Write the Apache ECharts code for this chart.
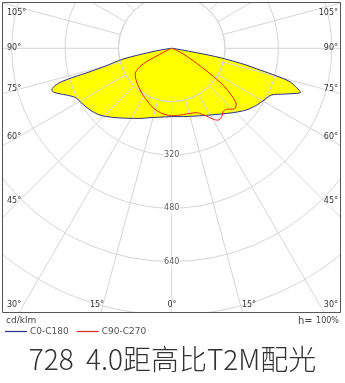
<!DOCTYPE html>
<html>
<head>
<meta charset="utf-8">
<script src="https://cdn.jsdelivr.net/npm/echarts@6/dist/echarts.min.js"></script>
<style>html,body{margin:0;padding:0;background:#fff}#c{width:345px;height:383px}</style>
</head>
<body>
<div id="c"></div>
<script>
// C0 half-plane (right side): gamma (deg from nadir) and intensity (cd/klm)
const c0Gamma  = [90, 84, 81, 79.5, 78.5, 77.5, 76.2, 75.2, 74.2, 72.3, 71.2, 70.2, 67.7, 65, 61.3, 56.3, 50.6, 43.7, 36.3, 29.9, 19, 10, 0];
const c0Value  = [0, 5, 30, 120, 175, 222, 273, 326, 369, 395, 409, 399, 362, 331, 319, 307, 291, 267, 245, 231, 215, 208, 205];
// C180 half-plane (left side)
const c180Gamma = [0, 10, 17.4, 24.4, 33, 40, 47, 53, 58.6, 63, 66, 69.2, 70.8, 71.8, 73, 73.6, 74, 75, 77.5, 80, 84, 90];
const c180Value = [205, 210, 218, 231, 250, 271, 294, 307, 316, 325, 345, 375, 381, 374, 351, 308, 255, 205, 150, 60, 8, 0];
// C90 half-plane (right side)
const c90Gamma = [90, 75, 68, 64, 61, 59, 57, 56, 55, 54, 52, 50.5, 49, 47, 45, 42, 39, 37, 34, 32, 30, 27, 25, 21, 16, 10, 5, 0];
const c90Value = [0, 3, 15, 39, 62, 87, 125, 151, 175, 197, 225, 245, 256, 262, 258, 246, 245, 252, 258, 254, 244, 228, 219, 207, 203, 202, 202, 202];
// C270 half-plane (left side)
const c270Gamma = [0, 5, 10, 15, 20, 25, 30, 35, 40, 45, 50, 55, 58, 60, 62, 63, 66, 75, 90];
const c270Value = [202, 200, 196, 190, 183, 174, 167, 160, 153, 147, 141, 134, 122, 110, 85, 40, 10, 2, 0];
// radial tick labels
const radiusLabels = [320, 480, 640];
const angleLabelsSide = ['105°', '90°', '75°', '60°', '45°', '30°'];
const angleLabelsBottom = ['15°', '0°', '15°'];
const seriesNames = ['C0-C180', 'C90-C270'];
const titleText = '728  4.0距高比T2M配光';

function build(rightG, rightV, leftG, leftV) {
  const out = [];
  const r = rightG.map((g, i) => [rightV[i], 180 - g]).sort((a, b) => a[1] - b[1]);
  const l = leftG.map((g, i) => [leftV[i], 180 + g]).sort((a, b) => a[1] - b[1]);
  r.forEach(p => out.push(p));
  l.forEach((p, i) => { if (!(i === 0 && p[1] === 180 && out.length && out[out.length-1][1] === 180)) out.push(p); });
  return out;
}
const blueData = build(c0Gamma, c0Value, c180Gamma, c180Value);
const redData = build(c90Gamma, c90Value, c270Gamma, c270Value);

const CX = 171.7, CY = 48.3, PXU = 1/3, RMAX = 1280;
const gridColor = '#d6d6d6';
const BLUE = '#2b2f8c', RED = '#d8261e';
const lblFont = {fontSize: 8, fontFamily: 'DejaVu Sans', fill: '#333'};

const chart = echarts.init(document.getElementById('c'), null, {renderer: 'canvas'});

const graphics = [
  {type: 'rect', shape: {x: 0, y: 0, width: 345, height: 2}, style: {fill: '#fff'}, z: 100, silent: true},
  {type: 'rect', shape: {x: 0, y: 0, width: 2, height: 383}, style: {fill: '#fff'}, z: 100, silent: true},
  {type: 'rect', shape: {x: 341, y: 0, width: 4, height: 383}, style: {fill: '#fff'}, z: 100, silent: true},
  {type: 'rect', shape: {x: 0, y: 313, width: 345, height: 70}, style: {fill: '#fff'}, z: 100, silent: true},
  {type: 'rect', shape: {x: 2.5, y: 2.5, width: 338, height: 310}, style: {fill: null, stroke: '#555', lineWidth: 1}, z: 101, silent: true},
  {type: 'text', x: 6, y: 316, style: Object.assign({}, lblFont, {text: 'cd/klm', fontSize: 9, fill: '#444'}), z: 102},
  {type: 'text', x: 298, y: 315, style: {text: '{a|h=} {b|100%}', rich: {a: {fontSize: 10, fontFamily: 'DejaVu Sans', fill: '#444'}, b: {fontSize: 8, fontFamily: 'DejaVu Sans', fill: '#444'}}}, z: 102}
];
const sideY = [13, 48, 89, 137, 201, 305];
angleLabelsSide.forEach((t, i) => {
  graphics.push({type: 'text', x: 7, y: sideY[i], style: Object.assign({}, lblFont, {text: t, verticalAlign: 'middle'}), z: 102});
  graphics.push({type: 'text', x: 338, y: sideY[i], style: Object.assign({}, lblFont, {text: t, align: 'right', verticalAlign: 'middle'}), z: 102});
});
const botX = [97, 172, 249];
angleLabelsBottom.forEach((t, i) => {
  graphics.push({type: 'text', x: botX[i], y: 305, style: Object.assign({}, lblFont, {text: t, align: 'center', verticalAlign: 'middle'}), z: 102});
});

chart.setOption({
  animation: false,
  backgroundColor: '#fff',
  title: {text: titleText, left: 'center', top: 340, z: 200, textStyle: {fontSize: 28, fontWeight: 300, color: '#333', fontFamily: 'Noto Sans CJK SC'}},
  legend: {data: seriesNames, left: 5, top: 327, padding: 0, icon: 'rect', itemWidth: 22, itemHeight: 1.2, itemGap: 8,
    textStyle: {fontSize: 9, color: '#555', fontFamily: 'DejaVu Sans', padding: [0, 0, 0, -2]}, z: 200},
  polar: [
    {center: [CX, CY], radius: RMAX * PXU},
    {center: [CX, CY], radius: [160 * PXU, RMAX * PXU]}
  ],
  angleAxis: [
    {polarIndex: 0, type: 'value', min: 0, max: 360, startAngle: 90, clockwise: true, show: false},
    {polarIndex: 1, type: 'value', min: 0, max: 360, interval: 15, startAngle: 90, clockwise: true, z: 3,
      axisLine: {show: true, lineStyle: {color: gridColor, width: 1}}, axisTick: {show: false}, axisLabel: {show: false},
      splitLine: {show: true, lineStyle: {color: gridColor, width: 1}}}
  ],
  radiusAxis: [
    {polarIndex: 0, type: 'value', min: 0, max: RMAX, show: false},
    {polarIndex: 1, type: 'value', min: 160, max: RMAX, interval: 160, z: 3,
      axisLine: {show: false}, axisTick: {show: false}, axisLabel: {show: false},
      splitLine: {show: true, lineStyle: {color: gridColor, width: 1}}}
  ],
  series: [
    {type: 'line', coordinateSystem: 'polar', polarIndex: 0, data: blueData, smooth: 0.3, symbol: 'none',
      lineStyle: {width: 0}, areaStyle: {color: '#ffff00', opacity: 1}, z: 1, silent: true},
    {type: 'line', name: seriesNames[0], coordinateSystem: 'polar', polarIndex: 0, data: blueData, smooth: 0.3, symbol: 'none',
      color: BLUE, itemStyle: {color: BLUE}, lineStyle: {width: 1, color: BLUE}, z: 5},
    {type: 'line', name: seriesNames[1], coordinateSystem: 'polar', polarIndex: 0, data: redData, smooth: 0.3, symbol: 'none',
      color: RED, itemStyle: {color: RED}, lineStyle: {width: 1, color: RED}, z: 5},
    {type: 'scatter', coordinateSystem: 'polar', polarIndex: 0, data: radiusLabels.map(v => [v, 180]), symbolSize: 0, z: 6,
      label: {show: true, position: 'inside', formatter: p => String(p.value[0]), fontSize: 8, fontFamily: 'DejaVu Sans', color: '#333', backgroundColor: '#fff', padding: [1, 1]}}
  ],
  graphic: {elements: graphics}
});
</script>
</body>
</html>
